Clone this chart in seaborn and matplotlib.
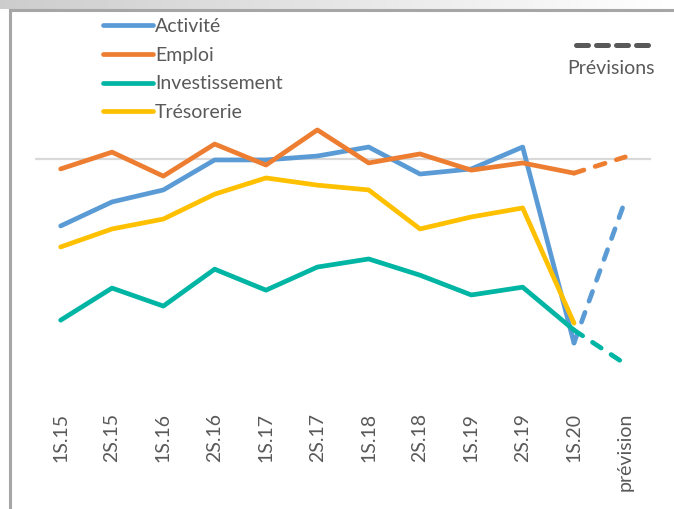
"""Enquete de conjoncture : soldes d'opinion par semestre, avec prevision."""
import numpy as np
import pandas as pd
import matplotlib
matplotlib.use("Agg")
import matplotlib.pyplot as plt
from matplotlib.lines import Line2D
from matplotlib.patches import Rectangle
import seaborn as sns

periodes = ['1S.15', '2S.15', '1S.16', '2S.16', '1S.17', '2S.17',
            '1S.18', '2S.18', '1S.19', '2S.19', '1S.20', 'prévision']

activite = [-22.3, -14.3, -10.3, -0.3, -0.3, 1.0, 4.0, -5.0, -3.3, 4.0, -61.3, -13.7]
emploi = [-3.3, 2.3, -5.7, 5.0, -2.0, 9.7, -1.3, 1.7, -3.7, -1.3, -4.7, 0.7]
investissement = [-53.7, -43.0, -49.0, -36.7, -43.7, -36.0, -33.3, -38.7, -45.3, -42.7, -57.0, -68.3]
tresorerie = [-29.3, -23.3, -20.0, -11.7, -6.3, -8.7, -10.3, -23.3, -19.3, -16.3, -54.7, np.nan]

series = {'Activité': activite, 'Emploi': emploi,
          'Investissement': investissement, 'Trésorerie': tresorerie}
couleurs = {'Activité': '#5B9BD5', 'Emploi': '#ED7D31',
            'Investissement': '#00B5A3', 'Trésorerie': '#FFC000'}

gris_texte = '#595959'

# tableau long
rows = []
for nom, vals in series.items():
    for i, v in enumerate(vals):
        rows.append({'idx': i, 'periode': periodes[i], 'serie': nom, 'valeur': v})
df = pd.DataFrame(rows)
n_obs = len(periodes) - 1  # derniere valeur observee = 1S.20
obs = df[df['idx'] < n_obs]
prev = df[(df['idx'] >= n_obs - 1)].dropna()

sns.set_style('white')
plt.rcParams['font.family'] = ['Lato', 'DejaVu Sans']

fig = plt.figure(figsize=(6.74, 5.09), dpi=100)
W, H = 674, 509

# cadre du graphique (capture Excel)
grad = np.linspace(0.80, 1.0, 256).reshape(1, -1)
ax_bg = fig.add_axes([0, (H - 9) / H, 1, 9 / H])
ax_bg.imshow(grad, cmap='gray', vmin=0, vmax=1, aspect='auto')
ax_bg.axis('off')
fig.patches.append(Rectangle((10 / W, -0.1), 1.2, (H - 10) / H + 0.1,
                             transform=fig.transFigure, fill=False,
                             edgecolor='#A6A6A6', linewidth=2.2))

ax = fig.add_axes([35 / W, (H - 400) / H, (651 - 35) / W, (400 - 15) / H])
ax.axhline(0, color='#D9D9D9', linewidth=1.6, zorder=1)

sns.lineplot(data=obs, x='idx', y='valeur', hue='serie', palette=couleurs,
             linewidth=3.4, ax=ax, legend=True, solid_capstyle='round')
for nom in ['Activité', 'Emploi', 'Investissement']:
    sub = prev[prev['serie'] == nom]
    sns.lineplot(data=sub, x='idx', y='valeur', color=couleurs[nom],
                 linewidth=3.4, ax=ax, legend=False)
    ax.lines[-1].set_dashes((2.2, 2.5))
    ax.lines[-1].set_dash_capstyle('round')

ax.set_xlim(-0.5, len(periodes) - 0.5)
ax.set_ylim(-80.3, 48)
ax.set_xticks(range(len(periodes)))
ax.set_xticklabels(periodes, rotation=90, fontsize=14, color=gris_texte)
ax.tick_params(axis='x', length=0, pad=9)
ax.set_yticks([])
ax.set_xlabel('')
ax.set_ylabel('')
for s in ax.spines.values():
    s.set_visible(False)

handles, labels = ax.get_legend_handles_labels()
for h in handles:
    h.set_linewidth(3.4)
    h.set_solid_capstyle('round')
leg = ax.legend(handles, labels, loc='upper left', frameon=False,
                bbox_to_anchor=(103 / W, (H - 18) / H), bbox_transform=fig.transFigure,
                borderpad=0, borderaxespad=0, handlelength=2.55, handletextpad=0.12,
                labelspacing=0.6, fontsize=14)
for t in leg.get_texts():
    t.set_color(gris_texte)

# legende "Prévisions"
fig.lines.append(Line2D([576 / W, 648 / W], [(H - 45) / H] * 2,
                        transform=fig.transFigure, color=gris_texte,
                        linewidth=3.6, dashes=(2.4, 1.6), dash_capstyle='round'))
fig.text(611 / W, (H - 68) / H, 'Prévisions', ha='center', va='center',
         fontsize=14, color=gris_texte)

fig.savefig('out.png', dpi=100)
